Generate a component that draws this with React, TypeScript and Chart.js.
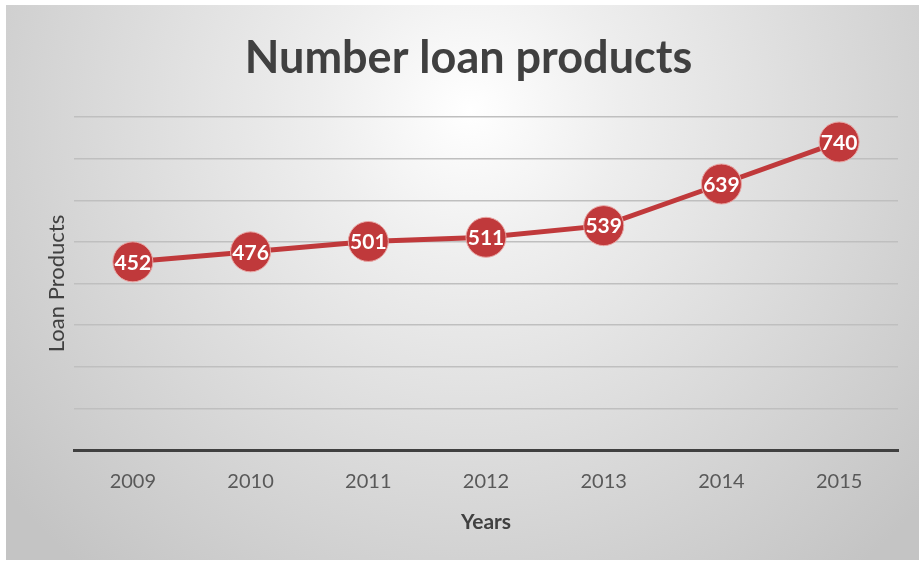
import React, { useEffect, useRef } from "react";
import { Chart, registerables } from "chart.js";

Chart.register(...registerables);

const years = ["2009", "2010", "2011", "2012", "2013", "2014", "2015"];
const loanProducts = [452, 476, 501, 511, 539, 639, 740];
const titleText = "Number loan products";
const xTitle = "Years";
const yTitle = "Loan Products";
const yMin = 0;
const yMax = 800;
const yStep = 100;

const FONT = "Lato, 'Open Sans', sans-serif";

const bgPlugin = {
  id: "bgPlugin",
  beforeDraw(chart: any) {
    const ctx = chart.ctx;
    const w = chart.width;
    const h = chart.height;
    ctx.save();
    ctx.fillStyle = "#ffffff";
    ctx.fillRect(0, 0, w, h);
    const g = ctx.createRadialGradient(470, 110, 0, 470, 110, 600);
    g.addColorStop(0, "#ffffff");
    g.addColorStop(0.25, "#eeeeee");
    g.addColorStop(1, "#c4c4c4");
    ctx.fillStyle = g;
    ctx.fillRect(6, 5, w - 6, h - 7);
    ctx.restore();
  },
};

const labelPlugin = {
  id: "labelPlugin",
  afterDatasetsDraw(chart: any) {
    const ctx = chart.ctx;
    const meta = chart.getDatasetMeta(0);
    const data = chart.data.datasets[0].data;
    ctx.save();
    ctx.fillStyle = "#ffffff";
    ctx.font = `bold 21px ${FONT}`;
    ctx.textAlign = "center";
    ctx.textBaseline = "middle";
    meta.data.forEach((pt: any, i: number) => {
      ctx.fillText(String(data[i]), pt.x, pt.y + 1);
    });
    ctx.restore();
  },
};

export default function App() {
  const ref = useRef<HTMLCanvasElement | null>(null);
  useEffect(() => {
    if (!ref.current) return;
    const chart = new Chart(ref.current, {
      type: "line",
      data: {
        labels: years,
        datasets: [
          {
            data: loanProducts,
            borderColor: "#c0393b",
            borderWidth: 5,
            pointRadius: 20,
            pointHoverRadius: 20,
            pointBackgroundColor: "#c0393b",
            pointBorderColor: "#e9a7a5",
            pointBorderWidth: 1,
            tension: 0,
            clip: false as any,
          },
        ],
      },
      options: {
        responsive: false,
        animation: false,
        layout: { padding: { left: 18, right: 0, top: 0, bottom: 0 } },
        plugins: {
          legend: { display: false },
          tooltip: { enabled: false },
          title: {
            display: true,
            text: titleText,
            color: "#404040",
            font: { family: FONT, size: 45, weight: "bold" },
            padding: { top: 31, bottom: 32 },
          },
        },
        scales: {
          x: {
            offset: true,
            grid: { display: false },
            border: { display: true, color: "#404040", width: 3 },
            ticks: {
              color: "#595959",
              font: { family: FONT, size: 20 },
              padding: 12,
            },
            title: {
              display: true,
              text: xTitle,
              color: "#404040",
              font: { family: FONT, size: 21, weight: "bold" },
              padding: { top: 0, bottom: 27 },
            },
            afterFit(scale: any) {
              scale.height = 112;
            },
          },
          y: {
            min: yMin,
            max: yMax,
            ticks: { display: false, stepSize: yStep },
            grid: { color: "#bfbfbf", lineWidth: 1.5, drawTicks: false },
            border: { display: false },
            title: {
              display: true,
              text: yTitle,
              color: "#404040",
              font: { family: FONT, size: 22 },
              padding: { top: 26, bottom: 0 },
            },
            afterFit(scale: any) {
              scale.width = 56;
            },
          },
          yRight: {
            position: "right",
            display: true,
            grid: { display: false },
            ticks: { display: false },
            border: { display: false },
            afterFit(scale: any) {
              scale.width = 18;
            },
          },
        },
      },
      plugins: [bgPlugin, labelPlugin],
    });
    return () => chart.destroy();
  }, []);
  return (
    <div style={{ position: "fixed", left: 0, top: 0, width: 919, height: 562 }}>
      <canvas ref={ref} width={919} height={562} />
    </div>
  );
}
